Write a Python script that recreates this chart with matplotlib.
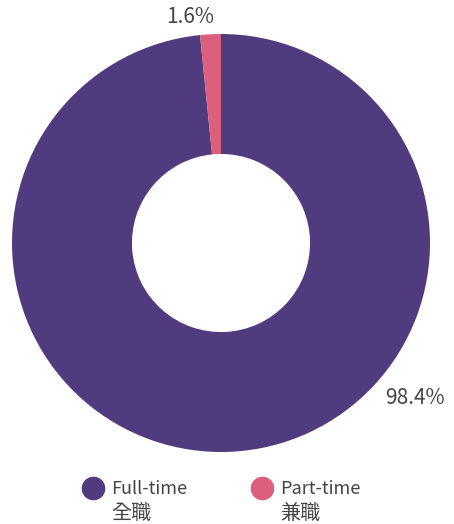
import matplotlib
matplotlib.use("Agg")
import matplotlib.pyplot as plt
from matplotlib.lines import Line2D

plt.rcParams['font.family'] = ['Noto Sans CJK TC', 'DejaVu Sans']

# employment type share (%)
categories = ["Full-time", "Part-time"]
categories_zh = ["全職", "兼職"]
shares = [98.4, 1.6]
colors = ["#4f3b7e", "#dc5f7b"]
text_color = "#444444"

fig = plt.figure(figsize=(4.54, 5.24), dpi=100)
ax = fig.add_axes([12 / 454, 72 / 524, 418 / 454, 418 / 524])

wedges, _ = ax.pie(shares, colors=colors, startangle=90, counterclock=False,
                   radius=1.0, wedgeprops=dict(width=0.574, linewidth=0))
ax.set_xlim(-1, 1)
ax.set_ylim(-1, 1)
ax.set_aspect('equal')
ax.axis('off')

# value labels placed outside the ring
label_pos = [(0.93, -0.74), (-0.15, 1.08)]
for val, (x, y) in zip(shares, label_pos):
    ax.text(x, y, f"{val}%", ha='center', va='center', fontsize=15,
            fontweight='light', color=text_color, clip_on=False)

# legend drawn by hand: dot + english name + chinese name underneath
legend_x = [93 / 454, 262 / 454]
for cx, name, zh, c in zip(legend_x, categories, categories_zh, colors):
    fig.lines.append(Line2D([cx], [1 - 488 / 524], marker='o', markersize=16,
                            color=c, linestyle='none', transform=fig.transFigure))
    fig.text(cx + 18 / 454, 1 - 489 / 524, name, ha='left', va='center',
             fontsize=13, fontweight='light', color=text_color)
    fig.text(cx + 18 / 454, 1 - 513 / 524, zh, ha='left', va='center',
             fontsize=14.5, fontweight='light', color=text_color)

fig.savefig("out.png", dpi=100)
